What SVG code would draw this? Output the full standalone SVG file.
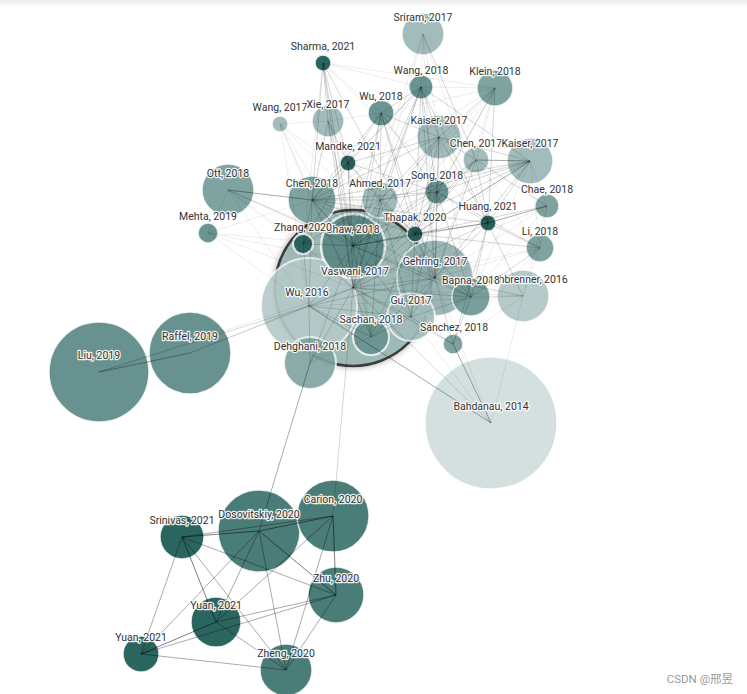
<svg xmlns="http://www.w3.org/2000/svg" width="747" height="694" viewBox="0 0 747 694">
<defs>
<linearGradient id="topband" x1="0" y1="0" x2="0" y2="1"><stop offset="0" stop-color="#ececec"/><stop offset="1" stop-color="#ffffff"/></linearGradient>
<filter id="shadow" x="-20%" y="-20%" width="140%" height="140%"><feDropShadow dx="0" dy="0" stdDeviation="3" flood-color="#000" flood-opacity="0.35"/></filter>
<style>
.node circle{stroke:#fff;stroke-width:1.5;stroke-opacity:0.8}
.c21{fill:#2b6560}.c20{fill:#4a7c78}.cM{fill:#6b9592}.cL{fill:#7ea3a1}.c19{fill:#68928f}
.c17{fill:#a2bcbb}.c16{fill:#b5cac9}.c14{fill:#d4e0e0}
.ov{opacity:0.9}
#connectors line{stroke:#000;stroke-width:1;fill:none}
.e1{stroke-opacity:0.07}.e2{stroke-opacity:0.16}.e3{stroke-opacity:0.33}.e4{stroke-opacity:0.5}
#labels text{font-family:Roboto,"Liberation Sans",sans-serif;font-size:10.5px;fill:#333;text-anchor:middle;stroke:#fff;stroke-width:2.5px;stroke-linejoin:round;paint-order:stroke;stroke-opacity:0.9}
.wm{font-family:Roboto,"Liberation Sans","Noto Sans CJK SC",sans-serif;font-size:11.5px;fill:#999}
</style>
</defs>
<rect x="0" y="0" width="747" height="694" fill="#fff"/>
<rect x="0" y="0" width="747" height="8" fill="url(#topband)"/>

<g id="nodes">
<g id="node-vaswani-2017" class="node"><circle cx="353" cy="288" r="78" fill="#9ab7b5" fill-opacity="0.92" style="stroke:#3b3b3b;stroke-width:2.5;stroke-opacity:1" filter="url(#shadow)"/></g>
<g id="node-sriram-2017" class="node"><circle class="c17" cx="423" cy="34" r="21"/></g>
<g id="node-sharma-2021" class="node"><circle class="c21" cx="323" cy="63" r="8"/></g>
<g id="node-wang-2018" class="node"><circle class="cM" cx="421" cy="87" r="12"/></g>
<g id="node-klein-2018" class="node"><circle class="cL" cx="495" cy="88" r="18"/></g>
<g id="node-wang-2017" class="node"><circle class="c17" cx="280" cy="124" r="8"/></g>
<g id="node-xie-2017" class="node"><circle class="c17" cx="328" cy="121" r="16"/></g>
<g id="node-wu-2018" class="node"><circle class="cM" cx="381" cy="113" r="13"/></g>
<g id="node-kaiser-2017-a" class="node"><circle class="c17" cx="439" cy="137" r="22"/></g>
<g id="node-chen-2017" class="node"><circle class="c17" cx="476" cy="160" r="13"/></g>
<g id="node-kaiser-2017-b" class="node"><circle class="c17" cx="530" cy="161" r="23"/></g>
<g id="node-mandke-2021" class="node"><circle class="c21" cx="348" cy="163" r="8"/></g>
<g id="node-ott-2018" class="node"><circle class="cL" cx="228" cy="190" r="26"/></g>
<g id="node-chen-2018" class="node"><circle class="cL" cx="312" cy="200" r="24"/></g>
<g id="node-ahmed-2017" class="node"><circle class="c17" cx="380" cy="200" r="18"/></g>
<g id="node-song-2018" class="node"><circle class="cM" cx="437" cy="192" r="12"/></g>
<g id="node-chae-2018" class="node"><circle class="cL" cx="547" cy="206" r="12"/></g>
<g id="node-mehta-2019" class="node"><circle class="cM" cx="208" cy="233" r="10"/></g>
<g id="node-huang-2021" class="node"><circle class="c21" cx="488" cy="223" r="8"/></g>
<g id="node-li-2018" class="node"><circle class="cL" cx="540" cy="248" r="14"/></g>
<g id="node-kalchbrenner-2016" class="node"><circle class="c16" cx="523" cy="296" r="26"/></g>
<g id="node-gehring-2017" class="node"><circle class="ov" fill="#90afad" cx="435" cy="278" r="38"/></g>
<g id="node-thapak-2020" class="node"><circle class="c21" cx="415" cy="234" r="8"/></g>
<g id="node-bapna-2018" class="node"><circle class="cM ov" cx="471" cy="297" r="19"/></g>
<g id="node-wu-2016" class="node"><circle class="c16 ov" cx="309" cy="306" r="48" style="stroke-width:2"/></g>
<g id="node-zhang-2020" class="node"><circle class="c21" cx="303" cy="244" r="10" style="stroke-width:2"/></g>
<g id="node-shaw-2018" class="node"><circle fill="#5e8b87" cx="353" cy="246" r="32" style="stroke-width:2.5"/></g>
<g id="node-gu-2017" class="node"><circle class="c17 ov" cx="411" cy="317" r="24" style="stroke-width:2"/></g>
<g id="node-sachan-2018" class="node"><circle class="cM" cx="371" cy="337" r="18" style="stroke-width:2"/></g>
<g id="node-sanchez-2018" class="node"><circle class="cL" cx="453" cy="344" r="10"/></g>
<g id="node-dehghani-2018" class="node"><circle class="cL ov" cx="310" cy="363" r="26" style="stroke-width:2"/></g>
<g id="node-bahdanau-2014" class="node"><circle class="c14" cx="491" cy="423" r="66"/></g>
<g id="node-liu-2019" class="node"><circle class="c19" cx="99" cy="372" r="50"/></g>
<g id="node-raffel-2019" class="node"><circle class="c19" cx="190" cy="353" r="41"/></g>
<g id="node-srinivas-2021" class="node"><circle class="c21" cx="182" cy="537" r="22"/></g>
<g id="node-dosovitskiy-2020" class="node"><circle class="c20" cx="259" cy="531" r="41"/></g>
<g id="node-carion-2020" class="node"><circle class="c20" cx="333" cy="516" r="36"/></g>
<g id="node-zhu-2020" class="node"><circle class="c20" cx="336" cy="595" r="28"/></g>
<g id="node-yuan-2021-a" class="node"><circle class="c21" cx="216" cy="622" r="25"/></g>
<g id="node-yuan-2021-b" class="node"><circle class="c21" cx="141" cy="654" r="18"/></g>
<g id="node-zheng-2020" class="node"><circle class="c20" cx="286" cy="670" r="26"/></g>
</g>

<g id="connectors">
<!-- Vaswani hub -->
<line class="e1" x1="353" y1="288" x2="423" y2="34"/>
<line class="e2" x1="353" y1="288" x2="323" y2="63"/>
<line class="e2" x1="353" y1="288" x2="421" y2="87"/>
<line class="e1" x1="353" y1="288" x2="495" y2="88"/>
<line class="e1" x1="353" y1="288" x2="280" y2="124"/>
<line class="e2" x1="353" y1="288" x2="328" y2="121"/>
<line class="e2" x1="353" y1="288" x2="381" y2="113"/>
<line class="e2" x1="353" y1="288" x2="439" y2="137"/>
<line class="e2" x1="353" y1="288" x2="476" y2="160"/>
<line class="e1" x1="353" y1="288" x2="530" y2="161"/>
<line class="e2" x1="353" y1="288" x2="348" y2="163"/>
<line class="e1" x1="353" y1="288" x2="228" y2="190"/>
<line class="e2" x1="353" y1="288" x2="312" y2="200"/>
<line class="e2" x1="353" y1="288" x2="380" y2="200"/>
<line class="e2" x1="353" y1="288" x2="437" y2="192"/>
<line class="e1" x1="353" y1="288" x2="547" y2="206"/>
<line class="e1" x1="353" y1="288" x2="208" y2="233"/>
<line class="e2" x1="353" y1="288" x2="488" y2="223"/>
<line class="e2" x1="353" y1="288" x2="415" y2="234"/>
<line class="e1" x1="353" y1="288" x2="540" y2="248"/>
<line class="e2" x1="353" y1="288" x2="303" y2="244"/>
<line class="e2" x1="353" y1="288" x2="353" y2="246"/>
<line class="e2" x1="353" y1="288" x2="435" y2="278"/>
<line class="e2" x1="353" y1="288" x2="309" y2="306"/>
<line class="e2" x1="353" y1="288" x2="411" y2="317"/>
<line class="e2" x1="353" y1="288" x2="371" y2="337"/>
<line class="e2" x1="353" y1="288" x2="471" y2="297"/>
<line class="e1" x1="353" y1="288" x2="523" y2="296"/>
<line class="e2" x1="353" y1="288" x2="453" y2="344"/>
<line class="e2" x1="353" y1="288" x2="310" y2="363"/>
<line class="e2" x1="353" y1="288" x2="491" y2="423"/>
<line class="e1" x1="353" y1="288" x2="190" y2="353"/>
<line class="e1" x1="353" y1="288" x2="99" y2="372"/>
<line class="e2" x1="353" y1="288" x2="333" y2="516"/>
<!-- Thapak -->
<line class="e3" x1="415" y1="234" x2="530" y2="161"/>
<line class="e3" x1="415" y1="234" x2="488" y2="223"/>
<line class="e2" x1="415" y1="234" x2="476" y2="160"/>
<line class="e2" x1="415" y1="234" x2="437" y2="192"/>
<line class="e2" x1="415" y1="234" x2="421" y2="87"/>
<line class="e2" x1="415" y1="234" x2="495" y2="88"/>
<line class="e2" x1="415" y1="234" x2="439" y2="137"/>
<line class="e2" x1="415" y1="234" x2="381" y2="113"/>
<line class="e2" x1="415" y1="234" x2="323" y2="63"/>
<line class="e2" x1="415" y1="234" x2="348" y2="163"/>
<line class="e2" x1="415" y1="234" x2="380" y2="200"/>
<line class="e2" x1="415" y1="234" x2="540" y2="248"/>
<line class="e2" x1="415" y1="234" x2="547" y2="206"/>
<line class="e2" x1="415" y1="234" x2="435" y2="278"/>
<line class="e2" x1="415" y1="234" x2="471" y2="297"/>
<line class="e2" x1="415" y1="234" x2="371" y2="337"/>
<line class="e2" x1="415" y1="234" x2="411" y2="317"/>
<line class="e3" x1="415" y1="234" x2="353" y2="246"/>
<line class="e2" x1="415" y1="234" x2="312" y2="200"/>
<!-- Huang -->
<line class="e2" x1="488" y1="223" x2="476" y2="160"/>
<line class="e2" x1="488" y1="223" x2="530" y2="161"/>
<line class="e2" x1="488" y1="223" x2="437" y2="192"/>
<line class="e2" x1="488" y1="223" x2="540" y2="248"/>
<line class="e3" x1="488" y1="223" x2="547" y2="206"/>
<line class="e2" x1="488" y1="223" x2="495" y2="88"/>
<line class="e2" x1="488" y1="223" x2="439" y2="137"/>
<line class="e2" x1="488" y1="223" x2="421" y2="87"/>
<line class="e2" x1="488" y1="223" x2="435" y2="278"/>
<line class="e2" x1="488" y1="223" x2="471" y2="297"/>
<line class="e2" x1="488" y1="223" x2="523" y2="296"/>
<line class="e2" x1="488" y1="223" x2="453" y2="344"/>
<line class="e2" x1="488" y1="223" x2="353" y2="246"/>
<line class="e1" x1="488" y1="223" x2="323" y2="63"/>
<!-- Mandke -->
<line class="e2" x1="348" y1="163" x2="323" y2="63"/>
<line class="e2" x1="348" y1="163" x2="328" y2="121"/>
<line class="e2" x1="348" y1="163" x2="381" y2="113"/>
<line class="e2" x1="348" y1="163" x2="421" y2="87"/>
<line class="e2" x1="348" y1="163" x2="439" y2="137"/>
<line class="e2" x1="348" y1="163" x2="312" y2="200"/>
<line class="e2" x1="348" y1="163" x2="380" y2="200"/>
<line class="e2" x1="348" y1="163" x2="437" y2="192"/>
<line class="e2" x1="348" y1="163" x2="353" y2="246"/>
<line class="e2" x1="348" y1="163" x2="303" y2="244"/>
<line class="e1" x1="348" y1="163" x2="371" y2="337"/>
<!-- Sharma -->
<line class="e1" x1="323" y1="63" x2="421" y2="87"/>
<line class="e1" x1="323" y1="63" x2="495" y2="88"/>
<line class="e2" x1="323" y1="63" x2="328" y2="121"/>
<line class="e1" x1="323" y1="63" x2="381" y2="113"/>
<line class="e2" x1="323" y1="63" x2="312" y2="200"/>
<line class="e1" x1="323" y1="63" x2="303" y2="244"/>
<line class="e2" x1="323" y1="63" x2="353" y2="246"/>
<!-- Zhang -->
<line class="e2" x1="303" y1="244" x2="312" y2="200"/>
<line class="e2" x1="303" y1="244" x2="380" y2="200"/>
<line class="e2" x1="303" y1="244" x2="353" y2="246"/>
<line class="e2" x1="303" y1="244" x2="309" y2="306"/>
<line class="e1" x1="303" y1="244" x2="228" y2="190"/>
<line class="e1" x1="303" y1="244" x2="437" y2="192"/>
<line class="e1" x1="303" y1="244" x2="421" y2="87"/>
<!-- Klein / Sriram / Wang18 -->
<line class="e1" x1="495" y1="88" x2="421" y2="87"/>
<line class="e2" x1="495" y1="88" x2="439" y2="137"/>
<line class="e1" x1="495" y1="88" x2="476" y2="160"/>
<line class="e1" x1="495" y1="88" x2="437" y2="192"/>
<line class="e1" x1="495" y1="88" x2="353" y2="246"/>
<line class="e1" x1="495" y1="88" x2="435" y2="278"/>
<line class="e1" x1="495" y1="88" x2="381" y2="113"/>
<line class="e1" x1="495" y1="88" x2="380" y2="200"/>
<line class="e1" x1="495" y1="88" x2="312" y2="200"/>
<line class="e1" x1="423" y1="34" x2="421" y2="87"/>
<line class="e1" x1="423" y1="34" x2="439" y2="137"/>
<line class="e1" x1="423" y1="34" x2="435" y2="278"/>
<line class="e2" x1="423" y1="34" x2="476" y2="160"/>
<line class="e1" x1="423" y1="34" x2="353" y2="246"/>
<line class="e1" x1="423" y1="34" x2="488" y2="223"/>
<line class="e2" x1="421" y1="87" x2="381" y2="113"/>
<line class="e2" x1="421" y1="87" x2="439" y2="137"/>
<line class="e2" x1="421" y1="87" x2="437" y2="192"/>
<line class="e2" x1="421" y1="87" x2="380" y2="200"/>
<line class="e2" x1="421" y1="87" x2="353" y2="246"/>
<line class="e1" x1="421" y1="87" x2="312" y2="200"/>
<line class="e2" x1="421" y1="87" x2="435" y2="278"/>
<line class="e2" x1="421" y1="87" x2="530" y2="161"/>
<!-- Wang17 / Xie / Wu18 -->
<line class="e1" x1="280" y1="124" x2="328" y2="121"/>
<line class="e1" x1="280" y1="124" x2="312" y2="200"/>
<line class="e1" x1="280" y1="124" x2="353" y2="246"/>
<line class="e1" x1="280" y1="124" x2="380" y2="200"/>
<line class="e1" x1="280" y1="124" x2="309" y2="306"/>
<line class="e1" x1="280" y1="124" x2="435" y2="278"/>
<line class="e2" x1="328" y1="121" x2="312" y2="200"/>
<line class="e2" x1="328" y1="121" x2="353" y2="246"/>
<line class="e1" x1="328" y1="121" x2="381" y2="113"/>
<line class="e1" x1="328" y1="121" x2="380" y2="200"/>
<line class="e1" x1="328" y1="121" x2="411" y2="317"/>
<line class="e2" x1="381" y1="113" x2="380" y2="200"/>
<line class="e2" x1="381" y1="113" x2="353" y2="246"/>
<line class="e2" x1="381" y1="113" x2="437" y2="192"/>
<line class="e2" x1="381" y1="113" x2="439" y2="137"/>
<line class="e2" x1="381" y1="113" x2="312" y2="200"/>
<line class="e2" x1="381" y1="113" x2="435" y2="278"/>
<!-- Kaiser A / Chen17 / Kaiser B -->
<line class="e2" x1="439" y1="137" x2="437" y2="192"/>
<line class="e2" x1="439" y1="137" x2="476" y2="160"/>
<line class="e2" x1="439" y1="137" x2="530" y2="161"/>
<line class="e2" x1="439" y1="137" x2="435" y2="278"/>
<line class="e2" x1="439" y1="137" x2="353" y2="246"/>
<line class="e2" x1="439" y1="137" x2="380" y2="200"/>
<line class="e2" x1="439" y1="137" x2="312" y2="200"/>
<line class="e1" x1="439" y1="137" x2="471" y2="297"/>
<line class="e1" x1="439" y1="137" x2="411" y2="317"/>
<line class="e3" x1="476" y1="160" x2="530" y2="161"/>
<line class="e2" x1="476" y1="160" x2="437" y2="192"/>
<line class="e2" x1="476" y1="160" x2="435" y2="278"/>
<line class="e2" x1="476" y1="160" x2="353" y2="246"/>
<line class="e1" x1="476" y1="160" x2="540" y2="248"/>
<line class="e2" x1="476" y1="160" x2="547" y2="206"/>
<line class="e2" x1="530" y1="161" x2="437" y2="192"/>
<line class="e1" x1="530" y1="161" x2="547" y2="206"/>
<line class="e1" x1="530" y1="161" x2="540" y2="248"/>
<line class="e2" x1="530" y1="161" x2="435" y2="278"/>
<line class="e2" x1="530" y1="161" x2="353" y2="246"/>
<line class="e1" x1="530" y1="161" x2="471" y2="297"/>
<line class="e2" x1="530" y1="161" x2="380" y2="200"/>
<line class="e2" x1="530" y1="161" x2="312" y2="200"/>
<!-- Ott / Chen18 / Ahmed / Song -->
<line class="e3" x1="228" y1="190" x2="312" y2="200"/>
<line class="e2" x1="228" y1="190" x2="353" y2="246"/>
<line class="e1" x1="228" y1="190" x2="309" y2="306"/>
<line class="e1" x1="228" y1="190" x2="435" y2="278"/>
<line class="e1" x1="228" y1="190" x2="208" y2="233"/>
<line class="e3" x1="312" y1="200" x2="353" y2="246"/>
<line class="e2" x1="312" y1="200" x2="380" y2="200"/>
<line class="e2" x1="312" y1="200" x2="437" y2="192"/>
<line class="e2" x1="312" y1="200" x2="435" y2="278"/>
<line class="e2" x1="312" y1="200" x2="309" y2="306"/>
<line class="e2" x1="312" y1="200" x2="488" y2="223"/>
<line class="e2" x1="380" y1="200" x2="353" y2="246"/>
<line class="e2" x1="380" y1="200" x2="437" y2="192"/>
<line class="e2" x1="380" y1="200" x2="435" y2="278"/>
<line class="e2" x1="380" y1="200" x2="411" y2="317"/>
<line class="e2" x1="380" y1="200" x2="371" y2="337"/>
<line class="e2" x1="437" y1="192" x2="435" y2="278"/>
<line class="e2" x1="437" y1="192" x2="353" y2="246"/>
<line class="e2" x1="437" y1="192" x2="411" y2="317"/>
<line class="e2" x1="437" y1="192" x2="471" y2="297"/>
<line class="e2" x1="437" y1="192" x2="540" y2="248"/>
<!-- Chae / Mehta / Li -->
<line class="e1" x1="547" y1="206" x2="540" y2="248"/>
<line class="e1" x1="547" y1="206" x2="435" y2="278"/>
<line class="e1" x1="547" y1="206" x2="471" y2="297"/>
<line class="e1" x1="547" y1="206" x2="523" y2="296"/>
<line class="e1" x1="208" y1="233" x2="312" y2="200"/>
<line class="e1" x1="208" y1="233" x2="353" y2="246"/>
<line class="e1" x1="208" y1="233" x2="309" y2="306"/>
<line class="e1" x1="208" y1="233" x2="435" y2="278"/>
<line class="e1" x1="540" y1="248" x2="435" y2="278"/>
<line class="e2" x1="540" y1="248" x2="471" y2="297"/>
<line class="e1" x1="540" y1="248" x2="523" y2="296"/>
<line class="e1" x1="540" y1="248" x2="453" y2="344"/>
<!-- central -->
<line class="e2" x1="353" y1="246" x2="435" y2="278"/>
<line class="e2" x1="353" y1="246" x2="309" y2="306"/>
<line class="e2" x1="353" y1="246" x2="411" y2="317"/>
<line class="e2" x1="353" y1="246" x2="371" y2="337"/>
<line class="e2" x1="353" y1="246" x2="310" y2="363"/>
<line class="e2" x1="353" y1="246" x2="471" y2="297"/>
<line class="e2" x1="435" y1="278" x2="309" y2="306"/>
<line class="e2" x1="435" y1="278" x2="411" y2="317"/>
<line class="e2" x1="435" y1="278" x2="371" y2="337"/>
<line class="e2" x1="435" y1="278" x2="471" y2="297"/>
<line class="e2" x1="435" y1="278" x2="523" y2="296"/>
<line class="e1" x1="435" y1="278" x2="491" y2="423"/>
<line class="e2" x1="435" y1="278" x2="453" y2="344"/>
<line class="e1" x1="435" y1="278" x2="310" y2="363"/>
<line class="e2" x1="309" y1="306" x2="411" y2="317"/>
<line class="e2" x1="309" y1="306" x2="371" y2="337"/>
<line class="e2" x1="309" y1="306" x2="310" y2="363"/>
<line class="e3" x1="309" y1="306" x2="491" y2="423"/>
<line class="e1" x1="309" y1="306" x2="523" y2="296"/>
<line class="e2" x1="309" y1="306" x2="99" y2="372"/>
<line class="e2" x1="309" y1="306" x2="190" y2="353"/>
<line class="e2" x1="411" y1="317" x2="371" y2="337"/>
<line class="e2" x1="411" y1="317" x2="471" y2="297"/>
<line class="e2" x1="411" y1="317" x2="453" y2="344"/>
<line class="e1" x1="411" y1="317" x2="491" y2="423"/>
<line class="e3" x1="453" y1="344" x2="491" y2="423"/>
<line class="e2" x1="453" y1="344" x2="471" y2="297"/>
<line class="e1" x1="453" y1="344" x2="523" y2="296"/>
<line class="e1" x1="523" y1="296" x2="491" y2="423"/>
<line class="e1" x1="523" y1="296" x2="471" y2="297"/>
<line class="e1" x1="310" y1="363" x2="371" y2="337"/>
<line class="e3" x1="310" y1="363" x2="259" y2="531"/>
<line class="e3" x1="99" y1="372" x2="190" y2="353"/>
<!-- bottom cluster -->
<line class="e4" x1="182" y1="537" x2="259" y2="531"/>
<line class="e3" x1="182" y1="537" x2="333" y2="516"/>
<line class="e3" x1="182" y1="537" x2="336" y2="595"/>
<line class="e4" x1="182" y1="537" x2="216" y2="622"/>
<line class="e3" x1="182" y1="537" x2="141" y2="654"/>
<line class="e3" x1="182" y1="537" x2="286" y2="670"/>
<line class="e4" x1="259" y1="531" x2="333" y2="516"/>
<line class="e4" x1="259" y1="531" x2="336" y2="595"/>
<line class="e3" x1="259" y1="531" x2="216" y2="622"/>
<line class="e3" x1="259" y1="531" x2="141" y2="654"/>
<line class="e3" x1="259" y1="531" x2="286" y2="670"/>
<line class="e4" x1="333" y1="516" x2="336" y2="595"/>
<line class="e3" x1="333" y1="516" x2="286" y2="670"/>
<line class="e3" x1="333" y1="516" x2="216" y2="622"/>
<line class="e3" x1="336" y1="595" x2="286" y2="670"/>
<line class="e3" x1="336" y1="595" x2="141" y2="654"/>
<line class="e3" x1="336" y1="595" x2="216" y2="622"/>
<line class="e3" x1="216" y1="622" x2="286" y2="670"/>
<line class="e4" x1="216" y1="622" x2="141" y2="654"/>
<line class="e3" x1="141" y1="654" x2="286" y2="670"/>
</g>

<g id="labels">
<text id="label-sriram-2017" x="423" y="21">Sriram, 2017</text>
<text id="label-sharma-2021" x="323" y="50">Sharma, 2021</text>
<text id="label-wang-2018" x="421" y="74">Wang, 2018</text>
<text id="label-klein-2018" x="495" y="75">Klein, 2018</text>
<text id="label-wang-2017" x="280" y="111">Wang, 2017</text>
<text id="label-xie-2017" x="328" y="108">Xie, 2017</text>
<text id="label-wu-2018" x="381" y="100">Wu, 2018</text>
<text id="label-kaiser-2017-a" x="439" y="124">Kaiser, 2017</text>
<text id="label-chen-2017" x="476" y="147">Chen, 2017</text>
<text id="label-kaiser-2017-b" x="530" y="147">Kaiser, 2017</text>
<text id="label-mandke-2021" x="348" y="150">Mandke, 2021</text>
<text id="label-ott-2018" x="228" y="177">Ott, 2018</text>
<text id="label-chen-2018" x="312" y="187">Chen, 2018</text>
<text id="label-ahmed-2017" x="380" y="187">Ahmed, 2017</text>
<text id="label-song-2018" x="437" y="179">Song, 2018</text>
<text id="label-chae-2018" x="547" y="193">Chae, 2018</text>
<text id="label-mehta-2019" x="208" y="220">Mehta, 2019</text>
<text id="label-huang-2021" x="488" y="210">Huang, 2021</text>
<text id="label-thapak-2020" x="415" y="221">Thapak, 2020</text>
<text id="label-li-2018" x="540" y="235">Li, 2018</text>
<text id="label-shaw-2018" x="353" y="233">Shaw, 2018</text>
<text id="label-zhang-2020" x="303" y="231">Zhang, 2020</text>
<text id="label-vaswani-2017" x="355" y="275">Vaswani, 2017</text>
<text id="label-gehring-2017" x="435" y="265">Gehring, 2017</text>
<text id="label-kalchbrenner-2016" x="523" y="283">Kalchbrenner, 2016</text>
<text id="label-bapna-2018" x="471" y="284">Bapna, 2018</text>
<text id="label-wu-2016" x="307" y="296">Wu, 2016</text>
<text id="label-gu-2017" x="411" y="304">Gu, 2017</text>
<text id="label-sachan-2018" x="371" y="323">Sachan, 2018</text>
<text id="label-sanchez-2018" x="454" y="331">Sánchez, 2018</text>
<text id="label-dehghani-2018" x="310" y="350">Dehghani, 2018</text>
<text id="label-bahdanau-2014" x="491" y="410">Bahdanau, 2014</text>
<text id="label-liu-2019" x="99" y="359">Liu, 2019</text>
<text id="label-raffel-2019" x="190" y="340">Raffel, 2019</text>
<text id="label-srinivas-2021" x="182" y="524">Srinivas, 2021</text>
<text id="label-dosovitskiy-2020" x="259" y="518">Dosovitskiy, 2020</text>
<text id="label-carion-2020" x="333" y="503">Carion, 2020</text>
<text id="label-zhu-2020" x="336" y="582">Zhu, 2020</text>
<text id="label-yuan-2021-a" x="216" y="609">Yuan, 2021</text>
<text id="label-yuan-2021-b" x="141" y="641">Yuan, 2021</text>
<text id="label-zheng-2020" x="286" y="657">Zheng, 2020</text>
</g>
<text class="wm" x="733" y="683" text-anchor="end">CSDN @邢昱</text>
</svg>
